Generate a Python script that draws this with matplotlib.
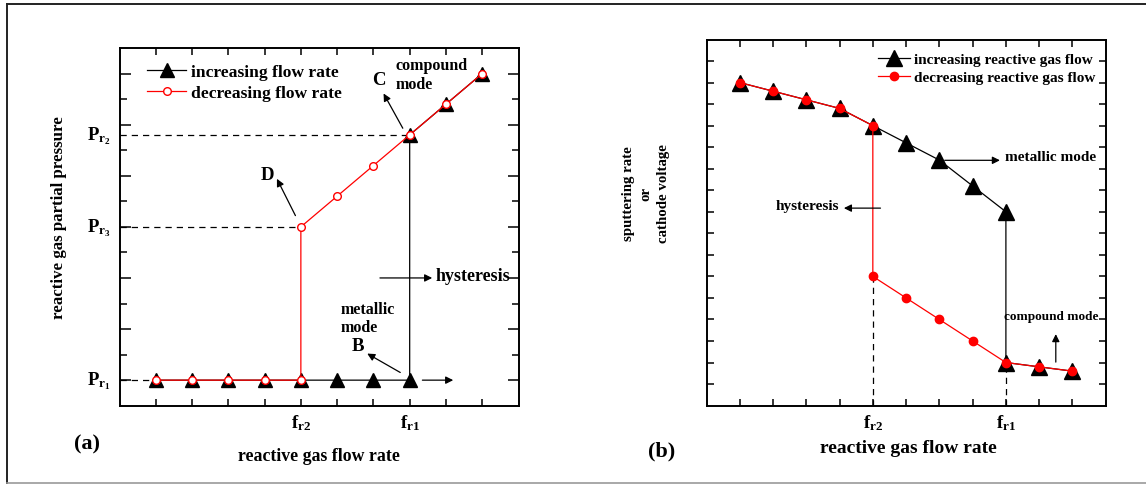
import matplotlib
matplotlib.use('Agg')
import matplotlib.pyplot as plt
import matplotlib.transforms as mtransforms
from matplotlib.lines import Line2D
import numpy as np

plt.rcParams['font.family'] = 'Liberation Serif'
plt.rcParams['font.weight'] = 'bold'
plt.rcParams['mathtext.fontset'] = 'custom'
plt.rcParams['mathtext.rm'] = 'Liberation Serif:bold'
plt.rcParams['mathtext.bf'] = 'Liberation Serif:bold'
plt.rcParams['mathtext.it'] = 'Liberation Serif:bold'

# panel (a): reactive gas partial pressure vs flow rate
a_inc_x = [0, 1, 2, 3, 4, 5, 6, 7, 7, 8, 9]
a_inc_y = [0, 0, 0, 0, 0, 0, 0, 0, 4.8, 5.4, 6.0]
a_dec_x = [9, 8, 7, 6, 5, 4, 4, 3, 2, 1, 0]
a_dec_y = [6.0, 5.4, 4.8, 4.2, 3.6, 3.0, 0, 0, 0, 0, 0]
a_fr2, a_fr1 = 4, 7
a_pr1, a_pr3, a_pr2 = 0, 3.0, 4.8

# panel (b): sputtering rate / cathode voltage vs flow rate
b_inc_x = [0, 1, 2, 3, 4, 5, 6, 7, 8, 8, 9, 10]
b_inc_y = [14.0, 13.6, 13.2, 12.8, 12.0, 11.2, 10.4, 9.2, 8.0, 1.0, 0.8, 0.6]
b_dec_x = [10, 9, 8, 7, 6, 5, 4, 4, 3, 2, 1, 0]
b_dec_y = [0.6, 0.8, 1.0, 2.0, 3.0, 4.0, 5.0, 12.0, 12.8, 13.2, 13.6, 14.0]
b_fr2, b_fr1 = 4, 8

W, H = 1146, 485
fig = plt.figure(figsize=(W / 100, H / 100), dpi=100)


def px_axes(left, top, right, bottom):
    return fig.add_axes([left / W, 1 - bottom / H, (right - left) / W, (bottom - top) / H])


def arrow(ax, tail, head):
    ax.annotate('', xy=head, xytext=tail,
                arrowprops=dict(arrowstyle='-|>', color='k', lw=0.9,
                                mutation_scale=11, shrinkA=0, shrinkB=0))


# outer frame
fig.add_artist(Line2D([7 / W, 1], [1 - 5 / H] * 2, transform=fig.transFigure, color='#222', lw=1.4))
fig.add_artist(Line2D([7 / W] * 2, [1 - 5 / H, 1 - 483.5 / H], transform=fig.transFigure, color='#222', lw=1.4))
fig.add_artist(Line2D([7 / W, 1], [1 - 483.5 / H] * 2, transform=fig.transFigure, color='#999', lw=1.2))

# ---------------- (a) ----------------
ax = px_axes(119.5, 49, 518.5, 406.7)
ax.set_xlim(-1, 10)
ax.set_ylim(-0.5, 6.5)
for s in ax.spines.values():
    s.set_linewidth(1.4)

ax.plot([-1, a_fr1], [a_pr2, a_pr2], 'k--', lw=0.9, dashes=(5, 4))
ax.plot([-1, a_fr2], [a_pr3, a_pr3], 'k--', lw=0.9, dashes=(5, 4))
ax.plot([-1, 0], [a_pr1, a_pr1], 'k--', lw=0.9, dashes=(5, 4))

ax.plot(a_inc_x, a_inc_y, color='k', lw=0.9, marker='^', ms=10.5,
        label='increasing flow rate')
ax.plot(a_dec_x, a_dec_y, color='red', lw=0.9, marker='o', ms=5.5,
        mfc='white', mec='red', mew=1.0, label='decreasing flow rate')

ax.set_xticks(range(10))
ax.set_yticks(range(7))
ax.set_yticks(np.arange(0.5, 6.5, 1), minor=True)
ax.tick_params(which='both', direction='in', top=True, right=True,
               labelbottom=False, labelleft=False, width=1.1)
ax.tick_params(axis='x', length=5)
ax.tick_params(axis='y', which='major', length=8)
ax.tick_params(axis='y', which='minor', length=5)

ax.legend(loc='upper left', bbox_to_anchor=(0.07, 0.955), frameon=False,
          fontsize=12.6, handlelength=2.2, handletextpad=0.3,
          borderpad=0, borderaxespad=0, labelspacing=0.25)

tr = mtransforms.blended_transform_factory(ax.transAxes, ax.transData)
for yv, s in [(a_pr2, '2'), (a_pr3, '3'), (a_pr1, '1')]:
    ax.text(-0.022, yv, r'$\mathbf{P}_{\mathbf{r}_{%s}}$' % s, transform=tr,
            ha='right', va='center', fontsize=13.5)
trx = mtransforms.blended_transform_factory(ax.transData, ax.transAxes)
ax.text(a_fr2, -0.045, r'$\mathbf{f}_{\mathbf{r2}}$', transform=trx, ha='center', va='center', fontsize=13.5)
ax.text(a_fr1, -0.045, r'$\mathbf{f}_{\mathbf{r1}}$', transform=trx, ha='center', va='center', fontsize=13.5)

arrow(ax, (7.35, 0), (8.2, 0))
arrow(ax, (6.81, 4.93), (6.28, 5.61))
ax.text(6.14, 5.89, 'C', fontsize=13.5, ha='center', va='center')
ax.text(6.6, 5.98, 'compound\nmode', fontsize=11.5, ha='left', va='center', linespacing=1.2)
arrow(ax, (3.85, 3.22), (3.34, 3.94))
ax.text(3.08, 4.02, 'D', fontsize=13.5, ha='center', va='center')
arrow(ax, (6.18, 2.0), (7.62, 2.0))
ax.text(7.72, 2.04, 'hysteresis', fontsize=13, ha='left', va='center')
ax.text(5.1, 1.22, 'metallic\nmode', fontsize=11.5, ha='left', va='center', linespacing=1.2)
arrow(ax, (6.74, 0.15), (5.83, 0.52))
ax.text(5.57, 0.67, 'B', fontsize=13.5, ha='center', va='center')

fig.text(87 / W, 1 - 444 / H, '(a)', fontsize=16, ha='center', va='center')
fig.text(319 / W, 1 - 457 / H, 'reactive gas flow rate', fontsize=12.8, ha='center', va='center')
fig.text(58.7 / W, 1 - 217.5 / H, 'reactive gas partial pressure', fontsize=12.2,
         ha='center', va='center', rotation=90)

# ---------------- (b) ----------------
bx = px_axes(706.5, 40.5, 1105.7, 406.6)
bx.set_xlim(-1, 11)
bx.set_ylim(-1, 16)
for s in bx.spines.values():
    s.set_linewidth(1.4)

bx.plot([b_fr2, b_fr2], [-1, b_dec_y[6]], 'k--', lw=0.9, dashes=(5, 4))
bx.plot([b_fr1, b_fr1], [-1, b_dec_y[2]], 'k--', lw=0.9, dashes=(5, 4))

bx.plot(b_inc_x, b_inc_y, color='k', lw=0.9, marker='^', ms=11,
        label='increasing reactive gas flow')
bx.plot(b_dec_x, b_dec_y, color='red', lw=0.9, marker='o', ms=6,
        mfc='red', mec='red', label='decreasing reactive gas flow')

bx.set_xticks(range(11))
bx.set_yticks(range(16))
bx.tick_params(which='both', direction='in', top=True, right=True,
               labelbottom=False, labelleft=False, width=1.1, length=5)

bx.legend(loc='upper right', bbox_to_anchor=(0.975, 0.965), frameon=False,
          fontsize=11, handlelength=2.1, handletextpad=0.3,
          borderpad=0, borderaxespad=0, labelspacing=0.3)

trx = mtransforms.blended_transform_factory(bx.transData, bx.transAxes)
bx.text(b_fr2, -0.045, r'$\mathbf{f}_{\mathbf{r2}}$', transform=trx, ha='center', va='center', fontsize=13.5)
bx.text(b_fr1, -0.045, r'$\mathbf{f}_{\mathbf{r1}}$', transform=trx, ha='center', va='center', fontsize=13.5)

arrow(bx, (6.16, 10.39), (7.82, 10.39))
bx.text(7.98, 10.58, 'metallic mode', fontsize=11, ha='left', va='center')
arrow(bx, (4.23, 8.17), (3.13, 8.17))
bx.text(2.98, 8.31, 'hysteresis', fontsize=11, ha='right', va='center')
arrow(bx, (9.5, 1.02), (9.5, 2.32))
bx.text(7.95, 3.16, 'compound mode', fontsize=9.5, ha='left', va='center')

fig.text(661.8 / W, 1 - 451 / H, '(b)', fontsize=16, ha='center', va='center')
fig.text(908 / W, 1 - 448.7 / H, 'reactive gas flow rate', fontsize=14, ha='center', va='center')
fig.text(646 / W, 1 - 193.5 / H, 'sputtering rate\nor\ncathode voltage', fontsize=10.7,
         ha='center', va='center', rotation=90, linespacing=1.45)

fig.savefig('out.png', dpi=100)
